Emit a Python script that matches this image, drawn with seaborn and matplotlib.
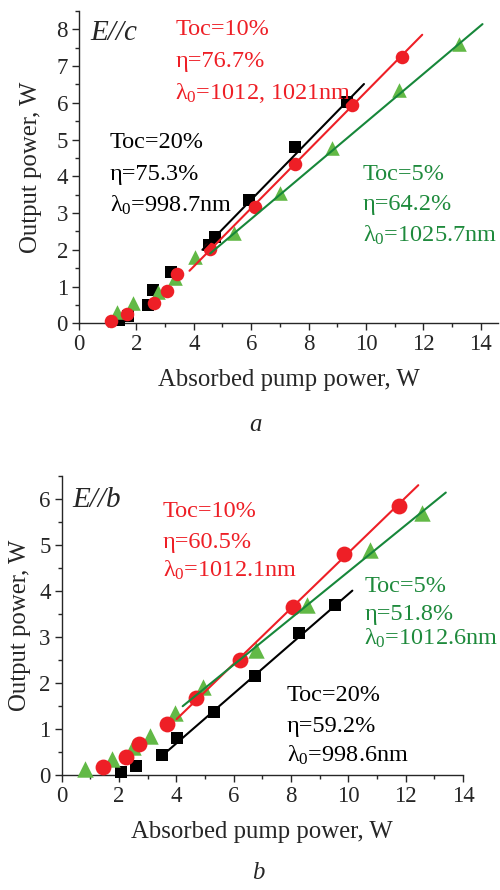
import numpy as np
import pandas as pd
import matplotlib
matplotlib.use("Agg")
import matplotlib.pyplot as plt
import seaborn as sns
from matplotlib.ticker import MultipleLocator

sns.set_style("ticks")
plt.rcParams['font.family'] = ['Liberation Serif', 'DejaVu Serif']
plt.rcParams['mathtext.fontset'] = 'custom'
plt.rcParams['mathtext.rm'] = 'Liberation Serif'
plt.rcParams['mathtext.it'] = 'Liberation Serif:italic'

# ---------------- data: panel a (E//c) ----------------
a_toc20_x = [1.40, 1.70, 2.39, 2.57, 3.21, 4.52, 4.75, 5.91, 7.52, 9.35]
a_toc20_y = [0.10, 0.20, 0.50, 0.91, 1.39, 2.13, 2.34, 3.36, 4.81, 6.03]
a_toc10_x = [1.10, 1.66, 2.60, 3.08, 3.43, 4.57, 6.15, 7.54, 9.52, 11.27]
a_toc10_y = [0.06, 0.25, 0.54, 0.88, 1.34, 2.02, 3.17, 4.33, 5.94, 7.25]
a_toc5_x = [1.34, 1.87, 2.77, 3.33, 4.05, 5.39, 7.02, 8.80, 11.15, 13.24]
a_toc5_y = [0.30, 0.54, 0.86, 1.22, 1.81, 2.45, 3.54, 4.76, 6.35, 7.60]
a_fit20_x = [4.30, 9.93]
a_fit20_y = [2.00, 6.51]
a_fit10_x = [3.85, 11.96]
a_fit10_y = [1.43, 7.85]
a_fit5_x = [4.57, 14.06]
a_fit5_y = [1.90, 8.14]

# ---------------- data: panel b (E//b) ----------------
b_toc20_x = [2.07, 2.59, 3.51, 4.03, 5.31, 6.74, 8.28, 9.54]
b_toc20_y = [0.07, 0.21, 0.44, 0.80, 1.37, 2.16, 3.08, 3.70]
b_toc10_x = [1.45, 2.23, 2.71, 3.66, 4.69, 6.22, 8.06, 9.85, 11.75]
b_toc10_y = [0.17, 0.39, 0.69, 1.11, 1.67, 2.51, 3.66, 4.81, 5.85]
b_toc5_x = [0.81, 1.74, 2.48, 3.08, 3.95, 4.94, 6.77, 8.57, 10.76, 12.56]
b_toc5_y = [0.13, 0.35, 0.61, 0.85, 1.36, 1.92, 2.71, 3.70, 4.89, 5.70]
b_fit20_x = [3.55, 10.14]
b_fit20_y = [0.45, 4.01]
b_fit10_x = [4.01, 12.44]
b_fit10_y = [1.22, 6.30]
b_fit5_x = [4.22, 13.40]
b_fit5_y = [1.50, 6.14]

a_labels = {
    'red': ["Toc=10%", "η=76.7%", "λ$_0$=1012, 1021nm"],
    'black': ["Toc=20%", "η=75.3%", "λ$_0$=998.7nm"],
    'green': ["Toc=5%", "η=64.2%", "λ$_0$=1025.7nm"],
}
b_labels = {
    'red': ["Toc=10%", "η=60.5%", "λ$_0$=1012.1nm"],
    'green': ["Toc=5%", "η=51.8%", "λ$_0$=1012.6nm"],
    'black': ["Toc=20%", "η=59.2%", "λ$_0$=998.6nm"],
}
xlabel = "Absorbed pump power, W"
ylabel = "Output power, W"

RED = '#EE1F26'
BLACK = '#000000'
GREEN_M = '#62B946'
GREEN_L = '#17873A'
GREEN_T = '#1E8A3C'

FS = 17.5     # annotations
LFS = 17.8    # axis labels
TFS = 16.5    # tick labels

fig = plt.figure(figsize=(5.0, 8.9), dpi=100)
axA = fig.add_axes([0.158, 0.6367, 0.996 - 0.158, 0.9878 - 0.6367])
axB = fig.add_axes([0.1234, 0.1289, 0.926 - 0.1234, 0.4652 - 0.1289])


def draw(ax, pts, fits):
    for (x, y, marker, color, size) in pts:
        df = pd.DataFrame({'x': x, 'y': y})
        sns.scatterplot(data=df, x='x', y='y', ax=ax, marker=marker, color=color,
                        s=size, linewidth=0, clip_on=False, zorder=3, legend=False)
    for (x, y, color) in fits:
        df = pd.DataFrame({'x': x, 'y': y})
        sns.lineplot(data=df, x='x', y='y', ax=ax, color=color, lw=1.5,
                     estimator=None, sort=False, zorder=4, legend=False)


draw(axA,
     [(a_toc20_x, a_toc20_y, 's', BLACK, 70),
      (a_toc5_x, a_toc5_y, '^', GREEN_M, 110),
      (a_toc10_x, a_toc10_y, 'o', RED, 95)],
     [(a_fit20_x, a_fit20_y, BLACK), (a_fit10_x, a_fit10_y, RED),
      (a_fit5_x, a_fit5_y, GREEN_L)])

draw(axB,
     [(b_toc20_x, b_toc20_y, 's', BLACK, 85),
      (b_toc5_x, b_toc5_y, '^', GREEN_M, 140),
      (b_toc10_x, b_toc10_y, 'o', RED, 130)],
     [(b_fit20_x, b_fit20_y, BLACK), (b_fit10_x, b_fit10_y, RED),
      (b_fit5_x, b_fit5_y, GREEN_L)])

for ax, xmax, ymax, ylp in [(axA, 14.6, 8.5, 10), (axB, 14.0, 6.5, 6)]:
    ax.set_xlim(0, xmax)
    ax.set_ylim(0, ymax)
    ax.xaxis.set_major_locator(MultipleLocator(2))
    ax.xaxis.set_minor_locator(MultipleLocator(1))
    ax.yaxis.set_major_locator(MultipleLocator(1))
    ax.yaxis.set_minor_locator(MultipleLocator(0.5))
    ax.tick_params(which='major', direction='out', length=5, width=1, labelsize=TFS, pad=3)
    ax.tick_params(which='minor', direction='out', length=3, width=1)
    for s in ['top', 'right']:
        ax.spines[s].set_visible(False)
    for s in ['left', 'bottom']:
        ax.spines[s].set_linewidth(1)
    ax.set_xlabel(xlabel, fontsize=LFS, labelpad=10)
    ax.set_ylabel(ylabel, fontsize=LFS, labelpad=ylp)
    ax.set_facecolor('white')


def block(ax, x, ys, lines, color):
    for y, t in zip(ys, lines):
        ax.text(x, y, t, color=color, fontsize=FS, ha='left', va='center')

axA.text(0.38, 7.9, "E//c", fontsize=21, style='italic', ha='left', va='center')
block(axA, 3.35, [7.98, 7.11, 6.27], a_labels['red'], RED)
block(axA, 1.08, [4.91, 4.04, 3.22], a_labels['black'], BLACK)
block(axA, 9.88, [4.06, 3.22, 2.38], a_labels['green'], GREEN_T)

axB.text(0.36, 5.98, "E//b", fontsize=21, style='italic', ha='left', va='center')
block(axB, 3.53, [5.72, 5.06, 4.46], b_labels['red'], RED)
block(axB, 10.55, [4.11, 3.50, 2.98], b_labels['green'], GREEN_T)
block(axB, 7.86, [1.74, 1.05, 0.44], b_labels['black'], BLACK)

fig.text(255 / 500, 1 - 425 / 890, "a", fontsize=LFS, style='italic', ha='center', va='center')
fig.text(258 / 500, 1 - 873 / 890, "b", fontsize=LFS, style='italic', ha='center', va='center')

fig.savefig("out.png", dpi=100, facecolor='white')
